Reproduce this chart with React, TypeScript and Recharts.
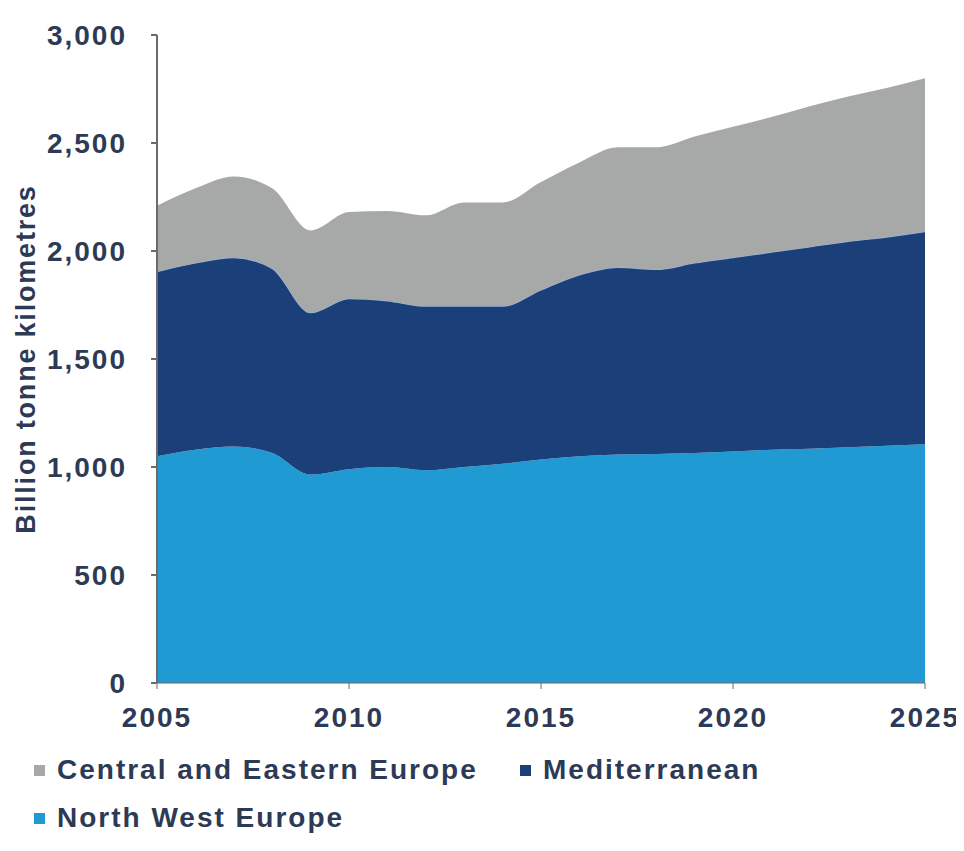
import React from "react";
import { AreaChart, Area, XAxis, YAxis, Legend, Label } from "recharts";

const years = [2005, 2006, 2007, 2008, 2009, 2010, 2011, 2012, 2013, 2014, 2015, 2016, 2017, 2018, 2019, 2020, 2021, 2022, 2023, 2024, 2025];
const northWestEurope = [1050, 1080, 1095, 1065, 965, 990, 1000, 985, 1000, 1015, 1035, 1050, 1058, 1060, 1065, 1072, 1080, 1085, 1092, 1098, 1105];
const mediterranean = [855, 865, 875, 855, 750, 790, 770, 760, 745, 730, 785, 840, 867, 855, 880, 898, 915, 935, 953, 967, 985];
const centralEastern = [305, 345, 375, 370, 380, 400, 415, 420, 480, 480, 500, 520, 555, 565, 585, 605, 625, 650, 670, 690, 710];
const yTicks = [0, 500, 1000, 1500, 2000, 2500, 3000];
const xTicks = [2005, 2010, 2015, 2020, 2025];

const data = years.map((y, i) => ({
  year: y,
  nwe: northWestEurope[i],
  med: mediterranean[i],
  cee: centralEastern[i],
}));

const COL_NWE = "#1f9ad3";
const COL_MED = "#1b3f78";
const COL_CEE = "#a7a8a8";
const TEXT = "#2d3a56";
const FONT = "'Liberation Sans', Arial, sans-serif";

const textStyle: React.CSSProperties = {
  fontFamily: FONT,
  fontWeight: 700,
  fontSize: 28,
  letterSpacing: 2,
  color: TEXT,
  whiteSpace: "nowrap",
};

const LegendContent = () => {
  const item = (left: number, top: number, color: string, label: string) => (
    <div key={label} style={{ position: "absolute", left, top, height: 34, display: "flex", alignItems: "center" }}>
      <div style={{ width: 11, height: 11, background: color, marginRight: 12 }} />
      <span style={textStyle}>{label}</span>
    </div>
  );
  return (
    <div style={{ position: "relative", width: 956, height: 100 }}>
      {item(26, 5, COL_CEE, "Central and Eastern Europe")}
      {item(512, 5, COL_MED, "Mediterranean")}
      {item(26, 53, COL_NWE, "North West Europe")}
    </div>
  );
};

export default function App() {
  return (
    <div style={{ width: 956, height: 843, background: "#ffffff" }}>
      <AreaChart
        width={956}
        height={843}
        data={data}
        margin={{ top: 27, right: 39, bottom: 8, left: 5 }}
      >
        <XAxis
          dataKey="year"
          type="number"
          domain={[2005, 2025]}
          ticks={xTicks}
          allowDataOverflow
          height={60}
          tickSize={6}
          tickMargin={18}
          stroke="#6b6b6b"
          tick={{ fill: TEXT, fontSize: 28, fontWeight: 700, fontFamily: FONT, letterSpacing: 2 }}
        />
        <YAxis
          type="number"
          domain={[0, 3000]}
          ticks={yTicks}
          width={144}
          tickSize={6}
          tickMargin={24}
          stroke="#6b6b6b"
          strokeWidth={2}
          tickFormatter={(v: number) => v.toLocaleString("en-US")}
          tick={{ fill: TEXT, fontSize: 28, fontWeight: 700, fontFamily: FONT, letterSpacing: 2 }}
        >
          <Label
            value="Billion tonne kilometres"
            angle={-90}
            position="insideLeft"
            offset={12}
            style={{ textAnchor: "middle", fill: TEXT, fontSize: 27, fontWeight: 700, fontFamily: FONT, letterSpacing: 1.8 }}
          />
        </YAxis>
        <Legend
          verticalAlign="bottom"
          content={<LegendContent />}
          wrapperStyle={{ position: "absolute", left: 0, top: 740, width: 956, height: 100 }}
        />
        <Area type="monotone" dataKey="nwe" stackId="1" name="North West Europe" fill={COL_NWE} fillOpacity={1} stroke="none" isAnimationActive={false} />
        <Area type="monotone" dataKey="med" stackId="1" name="Mediterranean" fill={COL_MED} fillOpacity={1} stroke="#9ab4d6" strokeWidth={1.5} isAnimationActive={false} />
        <Area type="monotone" dataKey="cee" stackId="1" name="Central and Eastern Europe" fill={COL_CEE} fillOpacity={1} stroke="none" isAnimationActive={false} />
      </AreaChart>
    </div>
  );
}
